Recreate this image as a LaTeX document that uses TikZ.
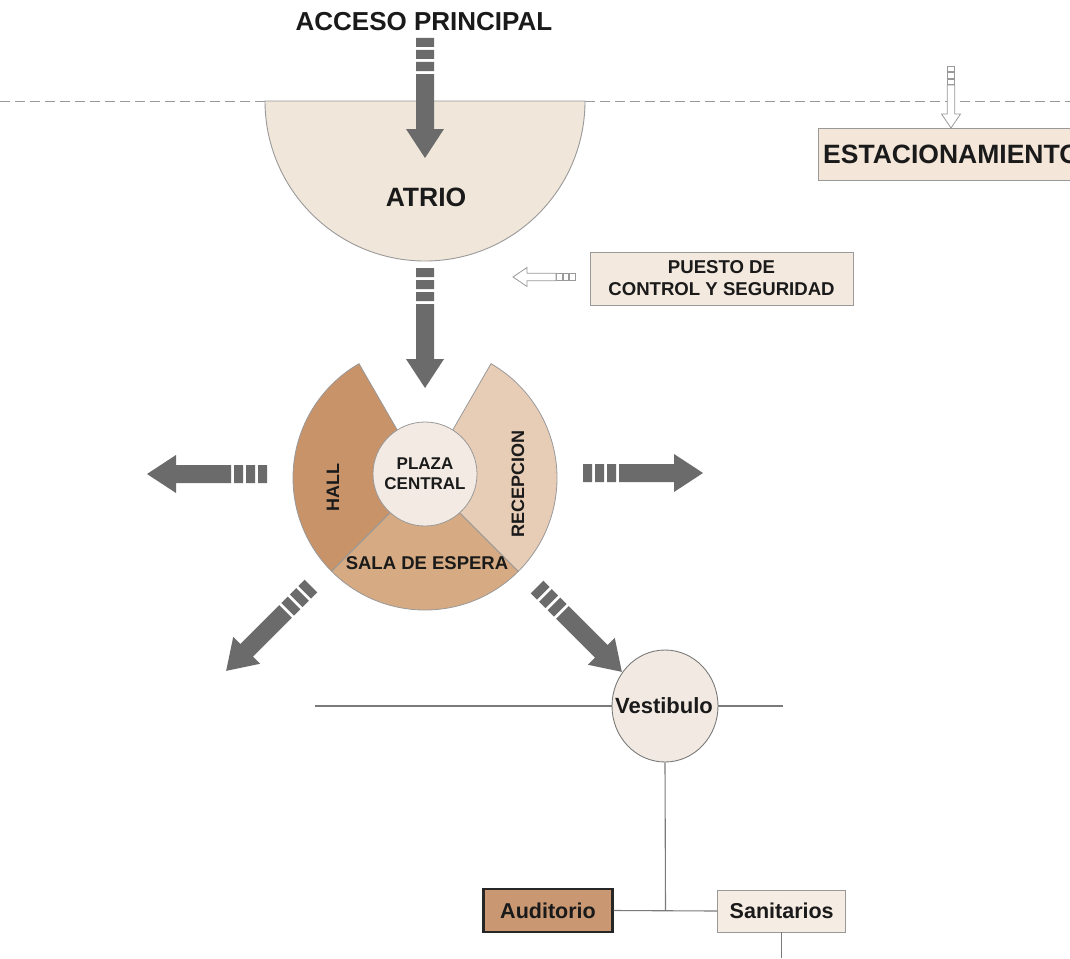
\documentclass[tikz,border=0pt]{standalone}
\usepackage{fontspec}
\setmainfont{Liberation Sans}
\usetikzlibrary{shapes.geometric}
\definecolor{arrowgray}{HTML}{6B6B6B}
\definecolor{linegray}{HTML}{7A7A7A}
\definecolor{bordergray}{HTML}{999999}
\definecolor{atrioc}{HTML}{F1E6DA}
\definecolor{boxc}{HTML}{F4E9DF}
\definecolor{estc}{HTML}{F5E6DA}
\definecolor{hallc}{HTML}{C9936A}
\definecolor{salac}{HTML}{D6AA82}
\definecolor{recc}{HTML}{E8CDB6}
\definecolor{plazac}{HTML}{F3EBE3}
\definecolor{audc}{HTML}{C99873}
\definecolor{vestc}{HTML}{F2EAE2}
\definecolor{sanc}{HTML}{F5ECE4}
\definecolor{textc}{HTML}{1A1A1A}
\newcommand\blockarrow[3]{\begin{scope}[shift={(#1,#2)},rotate=#3]
 \fill[arrowgray] (0,-9) rectangle (9,9) (12,-9) rectangle (21,9) (24,-9) rectangle (33,9);
 \fill[arrowgray] (36,-9) -- (91,-9) -- (91,-19) -- (120,0) -- (91,19) -- (91,9) -- (36,9) -- cycle;
\end{scope}}
\newcommand\hollowarrow[3]{\begin{scope}[shift={(#1,#2)},rotate=#3]
 \filldraw[fill=white,draw=bordergray,line width=0.8pt] (0,-3.7) rectangle (5.5,3.7) (6.5,-3.7) rectangle (12,3.7) (13,-3.7) rectangle (18.5,3.7);
 \filldraw[fill=white,draw=bordergray,line width=0.8pt] (19,-3.7) -- (48,-3.7) -- (48,-9.5) -- (62,0) -- (48,9.5) -- (48,3.7) -- (19,3.7) -- cycle;
\end{scope}}
\tikzset{
  lbl/.style={text=textc,font=\bfseries,inner sep=0pt},
  box/.style={draw=bordergray,line width=0.9pt,inner sep=0pt},
  wedge/.style={draw=bordergray,line width=0.8pt},
  conn/.style={draw=linegray,line width=1.1pt},
}
\begin{document}
\begin{tikzpicture}[x=1pt,y=-1pt]
\useasboundingbox (0,0) rectangle (1070,958);
\clip (0,0) rectangle (1070,958);
% dashed boundary
\coordinate (dl) at (0,101);
\coordinate (dr) at (1070,101);
\draw[bordergray,line width=0.9pt,dash pattern=on 10pt off 5pt] (dl) -- (dr);
% title
\node[lbl,font=\bfseries\fontsize{26}{30}\selectfont] (acc) at (424,22) {ACCESO PRINCIPAL};
% atrio
\filldraw[fill=atrioc,draw=bordergray,line width=0.9pt] (265,101) arc[start angle=180,end angle=0,radius=160] -- cycle;
\node[lbl,font=\bfseries\fontsize{26.5}{30}\selectfont] (atrio) at (426,197) {ATRIO};
% estacionamiento
\node[box,fill=estc,minimum width=272pt,minimum height=52pt,anchor=north west] (est) at (818,128) {};
\node[lbl,font=\bfseries\fontsize{26.5}{30}\selectfont,anchor=west] (estt) at (823,154) {ESTACIONAMIENTO};
% puesto
\node[box,fill=boxc,minimum width=263pt,minimum height=53pt,align=center,lbl,font=\bfseries\fontsize{18.6}{22}\selectfont] (pue) at (721.5,278.5) {PUESTO DE\\CONTROL Y SEGURIDAD};
% central disc
\coordinate (C) at (425,478);
\filldraw[wedge,fill=hallc] (C) -- ++(135:132) arc[start angle=135,end angle=240,radius=132] -- cycle;
\filldraw[wedge,fill=salac] (C) -- ++(45:132) arc[start angle=45,end angle=135,radius=132] -- cycle;
\filldraw[wedge,fill=recc] (C) -- ++(-60:132) arc[start angle=-60,end angle=45,radius=132] -- cycle;
\node[circle,draw=bordergray,line width=0.8pt,fill=plazac,minimum size=104pt,inner sep=0pt] (plaza) at (425,474) {};
\node[lbl,align=center,font=\bfseries\fontsize{17}{20}\selectfont] (plazat) at (425,474) {PLAZA\\CENTRAL};
\node[lbl,rotate=90,font=\bfseries\fontsize{18}{22}\selectfont] (hall) at (333,487) {HALL};
\node[lbl,rotate=90,font=\bfseries\fontsize{18}{22}\selectfont] (rec) at (518,484) {RECEPCION};
\node[lbl,font=\bfseries\fontsize{18.5}{22}\selectfont] (sala) at (427,563) {SALA DE ESPERA};
% block arrows
\blockarrow{425}{38}{-90}
\blockarrow{425}{268}{-90}
\blockarrow{267}{474}{180}
\blockarrow{583}{473}{0}
\blockarrow{311}{586}{-135}
\blockarrow{537}{587}{-45}
\hollowarrow{951}{66}{-90}
\hollowarrow{575}{277}{180}
% lower tree
\coordinate (hl) at (315,706);
\coordinate (hr) at (783,706);
\draw[conn] (hl) -- (hr);
\node[ellipse,draw=linegray,line width=0.9pt,fill=vestc,minimum width=106pt,minimum height=112pt,inner sep=0pt] (vest) at (665,706) {};
\node[lbl,font=\bfseries\fontsize{22}{25}\selectfont] (vestt) at (664,706) {Vestibulo};
\node[draw=black!85,line width=2.4pt,fill=audc,minimum width=129pt,minimum height=43pt,lbl,font=\bfseries\fontsize{21.5}{25}\selectfont] (aud) at (548,910.5) {Auditorio};
\node[box,fill=sanc,minimum width=128pt,minimum height=42pt,lbl,font=\bfseries\fontsize{21.5}{25}\selectfont] (san) at (781.7,911) {Sanitarios};
\coordinate (j) at (665.5,910.5);
\coordinate (bot) at (781,958);
\draw[conn] (vest.south) -- (j);
\draw[conn] (aud.east) -- (san.west);
\draw[conn] (san.south) -- (san.south |- bot);
\end{tikzpicture}
\end{document}
